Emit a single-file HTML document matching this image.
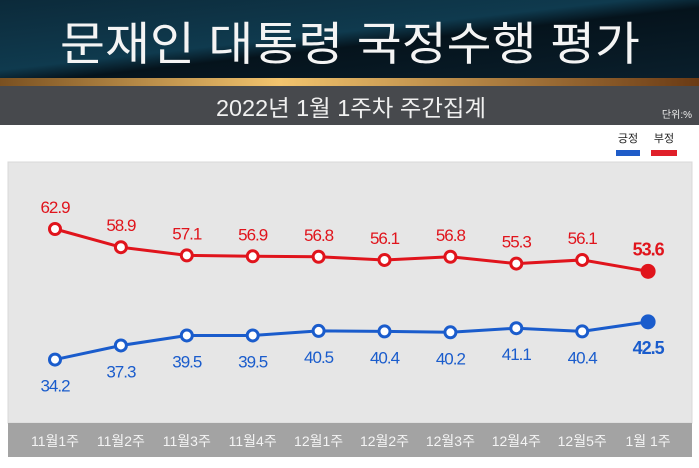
<!DOCTYPE html>
<html><head><meta charset="utf-8"><style>
body{margin:0;width:699px;height:468px;overflow:hidden;background:#fff;font-family:"Liberation Sans","Noto Sans CJK KR",sans-serif}
svg{display:block}
</style></head><body>
<svg width="699" height="468">
<defs>
<linearGradient id="hd" x1="0" y1="0" x2="1" y2="1"><stop offset="0" stop-color="#0c2a3a"/><stop offset="0.45" stop-color="#0f3a4e"/><stop offset="0.55" stop-color="#05131c"/><stop offset="1" stop-color="#0a1f2c"/></linearGradient>
<linearGradient id="gd" x1="0" x2="1"><stop offset="0" stop-color="#7a5020"/><stop offset="0.4" stop-color="#f2c46e"/><stop offset="1" stop-color="#6a3a14"/></linearGradient>
</defs>
<rect x="0" y="0" width="699" height="78" fill="url(#hd)"/>
<text x="350" y="60" text-anchor="middle" font-size="46" fill="#f4f4f4" textLength="580" lengthAdjust="spacingAndGlyphs">문재인 대통령 국정수행 평가</text>
<rect x="0" y="78" width="699" height="8" fill="url(#gd)"/>
<rect x="0" y="86" width="699" height="39" fill="#47494d"/>
<text x="351" y="116" text-anchor="middle" font-size="23" fill="#f0f0f0" textLength="270" lengthAdjust="spacingAndGlyphs">2022년 1월 1주차 주간집계</text>
<text x="692" y="118" text-anchor="end" font-size="10" fill="#eee">단위:%</text>
<text x="628" y="142" text-anchor="middle" font-size="11" fill="#222">긍정</text>
<rect x="616" y="150" width="24" height="6" fill="#1f5cc8"/>
<text x="664" y="142" text-anchor="middle" font-size="11" fill="#222">부정</text>
<rect x="651" y="150" width="26" height="6" fill="#e0202a"/>
<rect x="8" y="162" width="684" height="261" fill="#e6e6e6" stroke="#d8d8d8"/>
<rect x="8" y="423" width="684" height="34" fill="#a3a3a3"/>
<g id="g"></g>
</svg>
<script>
const categories=["11월1주","11월2주","11월3주","11월4주","12월1주","12월2주","12월3주","12월4주","12월5주","1월 1주"];
const negative=[62.9,58.9,57.1,56.9,56.8,56.1,56.8,55.3,56.1,53.6];
const positive=[34.2,37.3,39.5,39.5,40.5,40.4,40.2,41.1,40.4,42.5];
const NS="http://www.w3.org/2000/svg";
const g=document.getElementById('g');
function X(i){return 55+i*65.9;}
function Y(v){return 229+(62.9-v)*4.55;}
function mk(t,a){const e=document.createElementNS(NS,t);for(const k in a)e.setAttribute(k,a[k]);g.appendChild(e);return e;}
categories.forEach((c,i)=>{
 const t=mk('text',{x:X(i),y:446,'text-anchor':'middle','font-size':14,fill:'#f4f4f4'});
 t.textContent=c;
 
 
});
function series(vals,col,name,above){
 const p=mk('polyline',{points:vals.map((v,i)=>X(i)+','+Y(v)).join(' '),fill:'none',stroke:col,'stroke-width':3});
 
 
 vals.forEach((v,i)=>{
  const last=i===vals.length-1;
  const c=mk('circle',{cx:X(i),cy:Y(v),r:last?6:5.5,fill:last?col:'#fff',stroke:col,'stroke-width':3});
  
  
  const t=mk('text',{x:X(i),y:above?Y(v)-16:Y(v)+32,'text-anchor':'middle','font-size':last?18:17,'font-weight':last?'bold':'normal',fill:col,'letter-spacing':'-1'});
  t.textContent=v.toFixed(1);
  
  
 });
}
series(negative,'#e0141c','negative',true);
series(positive,'#1a5ccc','positive',false);
</script>
</body></html>
